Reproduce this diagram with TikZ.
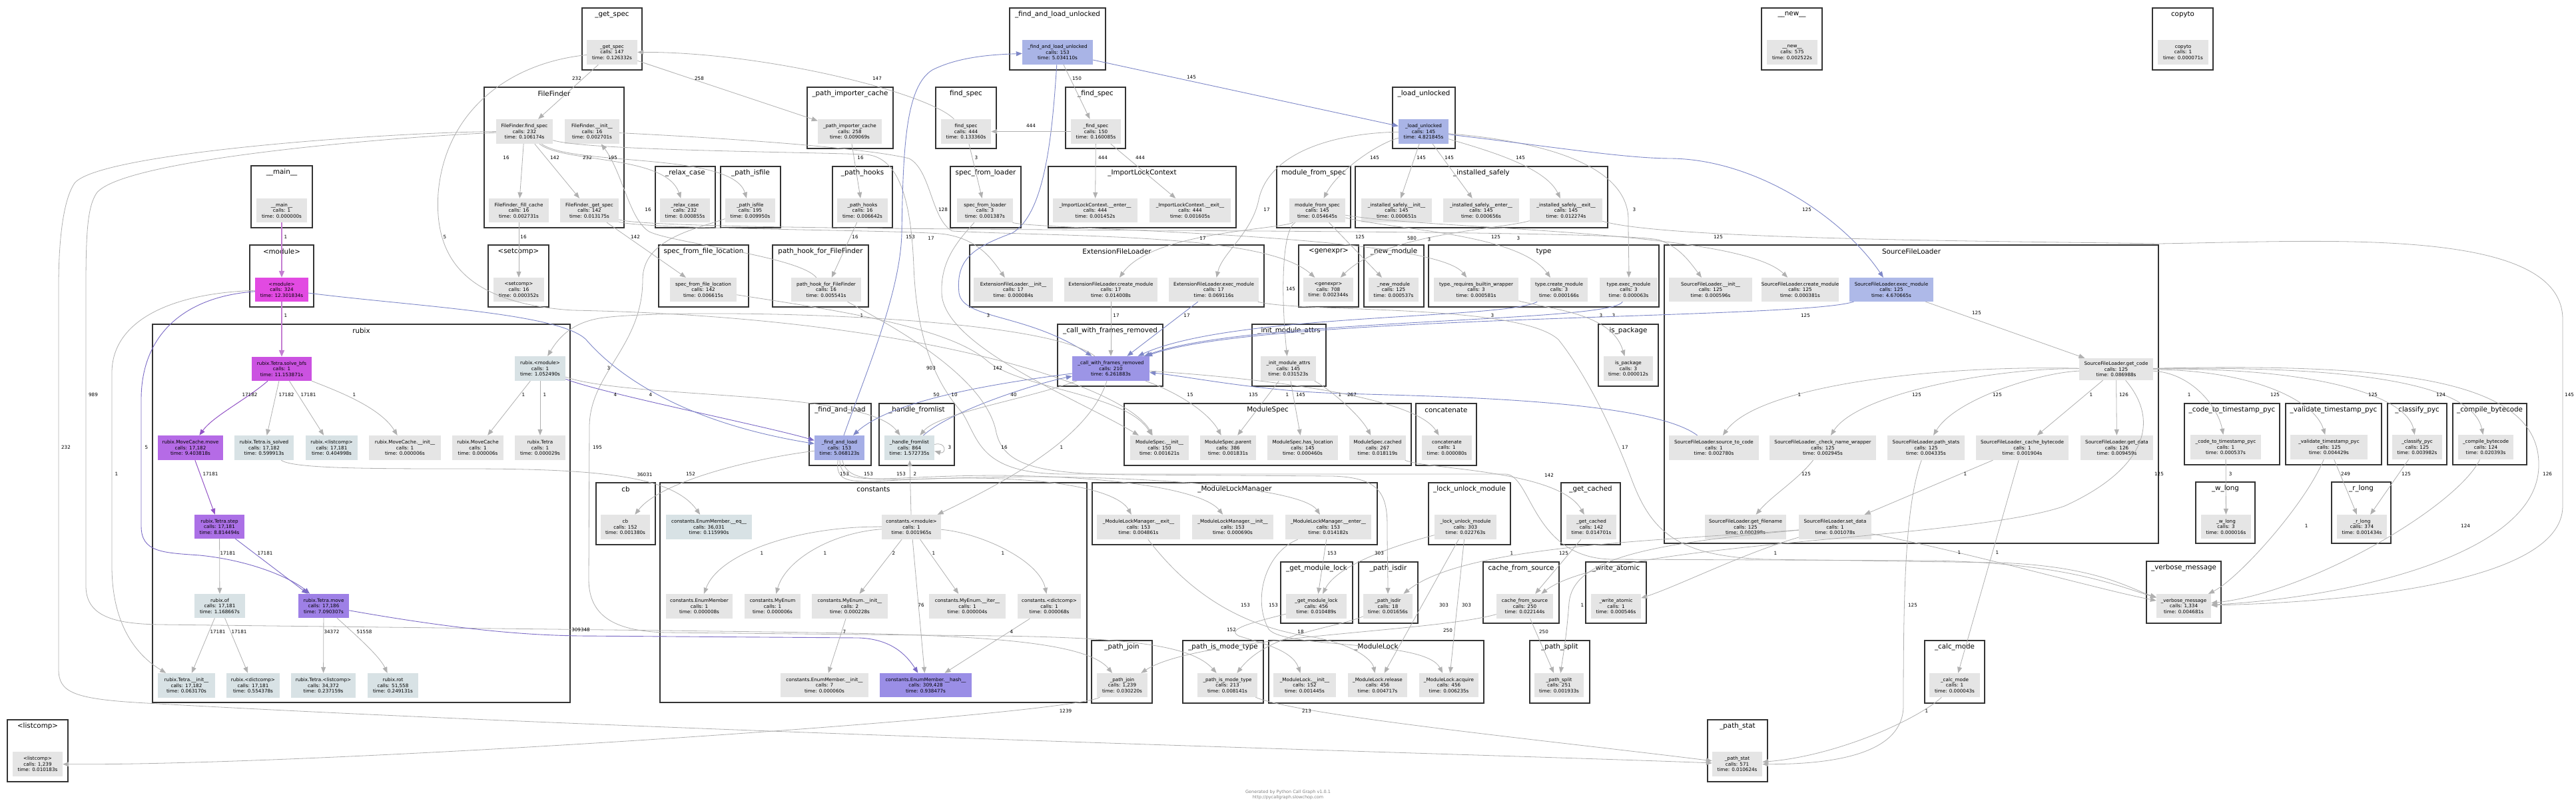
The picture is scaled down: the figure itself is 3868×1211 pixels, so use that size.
\documentclass[tikz,border=0pt]{standalone}
\usepackage{fontspec}
\setmainfont{DejaVu Sans}
\usetikzlibrary{arrows.meta}
\definecolor{eg}{HTML}{B0B0B0}
\definecolor{eb}{HTML}{7F88C8}
\definecolor{ev}{HTML}{7B6AC6}
\definecolor{ep}{HTML}{9353C6}
\definecolor{em}{HTML}{C47ED2}
\definecolor{ng}{HTML}{E5E5E5}
\definecolor{nbg}{HTML}{D8E2E5}
\definecolor{nb1}{HTML}{A9B4E6}
\definecolor{nb2}{HTML}{A5AEE6}
\definecolor{nb3}{HTML}{AEB9E8}
\definecolor{nv1}{HTML}{9C95E6}
\definecolor{nv2}{HTML}{9A8EE6}
\definecolor{nv3}{HTML}{9E80E6}
\definecolor{np1}{HTML}{AB70E6}
\definecolor{np2}{HTML}{B56BE6}
\definecolor{np3}{HTML}{CB52E1}
\definecolor{nm}{HTML}{E24AE2}
\newcommand\fnd[7]{\node[fnb,fill=#6,minimum width={(#4-#2)*1pt},minimum height={(#5-#3)*1pt}] (#1) at ({(#2+#4)/2},{(#3+#5)/2}) {#7};}
\newcommand\clu[6]{\draw[clb] (#2,#3) rectangle (#4,#5); \node[clt] (#1) at ({(#2+#4)/2},{#3+10}) {#6};}
\begin{document}
\begin{tikzpicture}[x=1pt,y=-1pt,
 clb/.style={draw=black!80,line width=1.7pt},
 clt/.style={font=\fontsize{10.3}{12}\selectfont,inner sep=0pt},
 fnb/.style={draw=none,inner sep=0pt,align=center,font=\fontsize{7.2}{8.6}\selectfont},
 el/.style={font=\fontsize{7.2}{8}\selectfont,inner sep=0pt},
 ge/.style={draw=eg,line width=0.8pt,-{Triangle[length=9pt,width=7pt]}},
 be/.style={draw=eb,line width=0.9pt,-{Triangle[length=9pt,width=7pt]}},
 bv/.style={draw=ev,line width=0.9pt,-{Triangle[length=9pt,width=7pt]}},
 pe/.style={draw=ep,line width=1pt,-{Triangle[length=9pt,width=7pt]}},
 me/.style={draw=em,line width=1.8pt,-{Triangle[length=10pt,width=8pt]}}]
\useasboundingbox (0,0) rectangle (3868,1211);
\fill[white] (0,0) rectangle (3868,1211);
% clusters
\clu{k1}{874}{12}{964}{105}{\_get\_spec}
\clu{k2}{1516}{12}{1660}{105}{\_find\_and\_load\_unlocked}
\clu{k3}{2645}{12}{2736}{105}{\_\_new\_\_}
\clu{k4}{3232}{12}{3323}{105}{copyto}
\clu{k5}{727}{131}{937}{342}{FileFinder}
\clu{k6}{1212}{131}{1341}{223}{\_path\_importer\_cache}
\clu{k7}{1405}{131}{1496}{223}{find\_spec}
\clu{k8}{1600}{131}{1690}{223}{\_find\_spec}
\clu{k9}{2091}{131}{2185}{223}{\_load\_unlocked}
\clu{k10}{377}{249}{469}{342}{\_\_main\_\_}
\clu{k11}{984}{250}{1074}{342}{\_relax\_case}
\clu{k12}{1082}{250}{1172}{342}{\_path\_isfile}
\clu{k13}{1250}{250}{1340}{342}{\_path\_hooks}
\clu{k14}{1427}{250}{1533}{342}{spec\_from\_loader}
\clu{k15}{1574}{250}{1856}{342}{\_ImportLockContext}
\clu{k16}{1917}{250}{2028}{342}{module\_from\_spec}
\clu{k17}{2035}{250}{2414}{342}{\_installed\_safely}
\clu{k18}{375}{368}{471}{461}{<module>}
\clu{k19}{733}{368}{824}{461}{<setcomp>}
\clu{k20}{989}{368}{1124}{461}{spec\_from\_file\_location}
\clu{k21}{1160}{368}{1304}{461}{path\_hook\_for\_FileFinder}
\clu{k22}{1456}{368}{1898}{461}{ExtensionFileLoader}
\clu{k23}{1950}{368}{2040}{461}{<genexpr>}
\clu{k24}{2048}{368}{2138}{461}{\_new\_module}
\clu{k25}{2145}{368}{2491}{461}{type}
\clu{k26}{2499}{368}{3241}{816}{SourceFileLoader}
\clu{k27}{229}{487}{856}{1055}{rubix}
\clu{k28}{1588}{487}{1746}{580}{\_call\_with\_frames\_removed}
\clu{k29}{1880}{487}{1991}{580}{\_init\_module\_attrs}
\clu{k30}{2400}{487}{2490}{580}{is\_package}
\clu{k31}{1215}{606}{1308}{699}{\_find\_and\_load}
\clu{k32}{1320}{606}{1433}{699}{\_handle\_fromlist}
\clu{k33}{1688}{606}{2119}{699}{ModuleSpec}
\clu{k34}{2126}{606}{2217}{699}{concatenate}
\clu{k35}{3280}{606}{3423}{698}{\_code\_to\_timestamp\_pyc}
\clu{k36}{3432}{606}{3576}{698}{\_validate\_timestamp\_pyc}
\clu{k37}{3585}{606}{3674}{698}{\_classify\_pyc}
\clu{k38}{3683}{606}{3794}{698}{\_compile\_bytecode}
\clu{k39}{895}{725}{984}{818}{cb}
\clu{k40}{991}{725}{1632}{1055}{constants}
\clu{k41}{1640}{725}{2068}{818}{\_ModuleLockManager}
\clu{k42}{2145}{725}{2268}{818}{\_lock\_unlock\_module}
\clu{k43}{2344}{725}{2433}{818}{\_get\_cached}
\clu{k44}{3297}{724}{3386}{816}{\_w\_long}
\clu{k45}{3501}{724}{3590}{816}{\_r\_long}
\clu{k46}{1923}{844}{2031}{936}{\_get\_module\_lock}
\clu{k47}{2040}{844}{2129}{936}{\_path\_isdir}
\clu{k48}{2227}{844}{2341}{936}{cache\_from\_source}
\clu{k49}{2381}{844}{2472}{936}{\_write\_atomic}
\clu{k50}{3223}{843}{3335}{936}{\_verbose\_message}
\clu{k51}{1639}{962}{1730}{1056}{\_path\_join}
\clu{k52}{1776}{962}{1897}{1056}{\_path\_is\_mode\_type}
\clu{k53}{1905}{962}{2228}{1056}{\_ModuleLock}
\clu{k54}{2297}{962}{2387}{1056}{\_path\_split}
\clu{k55}{2890}{962}{2980}{1056}{\_calc\_mode}
\clu{k56}{11}{1081}{102}{1174}{<listcomp>}
\clu{k57}{2564}{1081}{2654}{1174}{\_path\_stat}
% nodes
\fnd{getspec}{881}{60}{957}{97}{ng}{\_get\_spec\\calls: 147\\time: 0.126332s}
\fnd{falu}{1535}{60}{1641}{97}{nb1}{\_find\_and\_load\_unlocked\\calls: 153\\time: 5.034110s}
\fnd{new}{2653}{60}{2729}{97}{ng}{\_\_new\_\_\\calls: 575\\time: 0.002522s}
\fnd{copyto}{3240}{60}{3316}{97}{ng}{copyto\\calls: 1\\time: 0.000071s}
\fnd{ffind}{745}{179}{830}{216}{ng}{FileFinder.find\_spec\\calls: 232\\time: 0.106174s}
\fnd{finit}{848}{179}{930}{216}{ng}{FileFinder.\_\_init\_\_\\calls: 16\\time: 0.002701s}
\fnd{ffill}{734}{298}{824}{334}{ng}{FileFinder.\_fill\_cache\\calls: 16\\time: 0.002731s}
\fnd{fget}{841}{298}{929}{334}{ng}{FileFinder.\_get\_spec\\calls: 142\\time: 0.013175s}
\fnd{pic}{1228}{179}{1324}{216}{ng}{\_path\_importer\_cache\\calls: 258\\time: 0.009069s}
\fnd{findspec}{1413}{179}{1488}{216}{ng}{find\_spec\\calls: 444\\time: 0.133360s}
\fnd{ufindspec}{1608}{179}{1683}{216}{ng}{\_find\_spec\\calls: 150\\time: 0.160085s}
\fnd{lu}{2100}{179}{2175}{216}{nb1}{\_load\_unlocked\\calls: 145\\time: 4.821845s}
\fnd{main}{385}{298}{461}{334}{ng}{\_\_main\_\_\\calls: 1\\time: 0.000000s}
\fnd{relax}{991}{298}{1066}{334}{ng}{\_relax\_case\\calls: 232\\time: 0.000855s}
\fnd{isfile}{1089}{298}{1164}{334}{ng}{\_path\_isfile\\calls: 195\\time: 0.009950s}
\fnd{hooks}{1257}{298}{1333}{334}{ng}{\_path\_hooks\\calls: 16\\time: 0.006642s}
\fnd{sfl}{1437}{298}{1521}{334}{ng}{spec\_from\_loader\\calls: 3\\time: 0.001387s}
\fnd{ilcenter}{1581}{298}{1708}{334}{ng}{\_ImportLockContext.\_\_enter\_\_\\calls: 444\\time: 0.001452s}
\fnd{ilcexit}{1726}{298}{1848}{334}{ng}{\_ImportLockContext.\_\_exit\_\_\\calls: 444\\time: 0.001605s}
\fnd{mfs}{1936}{298}{2020}{334}{ng}{module\_from\_spec\\calls: 145\\time: 0.054645s}
\fnd{isinit}{2044}{298}{2150}{334}{ng}{\_installed\_safely.\_\_init\_\_\\calls: 145\\time: 0.000651s}
\fnd{isenter}{2167}{298}{2281}{334}{ng}{\_installed\_safely.\_\_enter\_\_\\calls: 145\\time: 0.000656s}
\fnd{isexit}{2297}{298}{2406}{334}{ng}{\_installed\_safely.\_\_exit\_\_\\calls: 145\\time: 0.012274s}
\fnd{module}{383}{417}{463}{453}{nm}{<module>\\calls: 324\\time: 12.301834s}
\fnd{setcomp}{741}{417}{817}{453}{ng}{<setcomp>\\calls: 16\\time: 0.000352s}
\fnd{sffl}{1006}{417}{1106}{453}{ng}{spec\_from\_file\_location\\calls: 142\\time: 0.006615s}
\fnd{phff}{1188}{417}{1293}{453}{ng}{path\_hook\_for\_FileFinder\\calls: 16\\time: 0.005541s}
\fnd{efinit}{1462}{417}{1581}{453}{ng}{ExtensionFileLoader.\_\_init\_\_\\calls: 17\\time: 0.000084s}
\fnd{efcreate}{1598}{417}{1738}{453}{ng}{ExtensionFileLoader.create\_module\\calls: 17\\time: 0.014008s}
\fnd{efexec}{1755}{417}{1890}{453}{ng}{ExtensionFileLoader.exec\_module\\calls: 17\\time: 0.069116s}
\fnd{genexpr}{1957}{417}{2032}{453}{ng}{<genexpr>\\calls: 708\\time: 0.002344s}
\fnd{newmod}{2055}{417}{2130}{453}{ng}{\_new\_module\\calls: 125\\time: 0.000537s}
\fnd{treq}{2153}{417}{2280}{453}{ng}{type.\_requires\_builtin\_wrapper\\calls: 3\\time: 0.000581s}
\fnd{tcreate}{2298}{417}{2384}{453}{ng}{type.create\_module\\calls: 3\\time: 0.000166s}
\fnd{texec}{2402}{417}{2489}{453}{ng}{type.exec\_module\\calls: 3\\time: 0.000063s}
\fnd{sfinit}{2506}{417}{2631}{453}{ng}{SourceFileLoader.\_\_init\_\_\\calls: 125\\time: 0.000596s}
\fnd{sfcreate}{2646}{417}{2760}{453}{ng}{SourceFileLoader.create\_module\\calls: 125\\time: 0.000381s}
\fnd{sfexec}{2777}{417}{2903}{453}{nb3}{SourceFileLoader.exec\_module\\calls: 125\\time: 4.670665s}
\fnd{getcode}{3122}{538}{3233}{571}{ng}{SourceFileLoader.get\_code\\calls: 125\\time: 0.086988s}
\fnd{s2c}{2506}{654}{2641}{691}{ng}{SourceFileLoader.source\_to\_code\\calls: 1\\time: 0.002780s}
\fnd{chk}{2657}{654}{2817}{691}{ng}{SourceFileLoader.\_check\_name\_wrapper\\calls: 125\\time: 0.002945s}
\fnd{pstats}{2834}{654}{2950}{691}{ng}{SourceFileLoader.path\_stats\\calls: 125\\time: 0.004335s}
\fnd{cacheb}{2967}{654}{3106}{691}{ng}{SourceFileLoader.\_cache\_bytecode\\calls: 1\\time: 0.001904s}
\fnd{getdata}{3124}{654}{3233}{691}{ng}{SourceFileLoader.get\_data\\calls: 126\\time: 0.009459s}
\fnd{getfn}{2560}{773}{2682}{810}{ng}{SourceFileLoader.get\_filename\\calls: 125\\time: 0.000398s}
\fnd{setdata}{2701}{773}{2810}{810}{ng}{SourceFileLoader.set\_data\\calls: 1\\time: 0.001078s}
\fnd{c2t}{3289}{653}{3395}{690}{ng}{\_code\_to\_timestamp\_pyc\\calls: 1\\time: 0.000537s}
\fnd{vts}{3439}{653}{3555}{690}{ng}{\_validate\_timestamp\_pyc\\calls: 125\\time: 0.004429s}
\fnd{clpyc}{3592}{653}{3667}{690}{ng}{\_classify\_pyc\\calls: 125\\time: 0.003982s}
\fnd{compb}{3691}{653}{3774}{690}{ng}{\_compile\_bytecode\\calls: 124\\time: 0.020393s}
\fnd{wlong}{3305}{773}{3380}{809}{ng}{\_w\_long\\calls: 3\\time: 0.000016s}
\fnd{rlong}{3509}{773}{3584}{809}{ng}{\_r\_long\\calls: 374\\time: 0.001434s}
\fnd{vmsg}{3238}{892}{3320}{928}{ng}{\_verbose\_message\\calls: 1,334\\time: 0.004681s}
\fnd{calc}{2897}{1011}{2973}{1047}{ng}{\_calc\_mode\\calls: 1\\time: 0.000043s}
\fnd{pstat}{2571}{1129}{2646}{1166}{ng}{\_path\_stat\\calls: 571\\time: 0.010624s}
\fnd{solve}{378}{536}{468}{572}{np3}{rubix.Tetra.solve\_bfs\\calls: 1\\time: 11.153871s}
\fnd{mcmove}{237}{654}{335}{691}{np2}{rubix.MoveCache.move\\calls: 17,182\\time: 9.403818s}
\fnd{issolved}{352}{654}{441}{691}{nbg}{rubix.Tetra.is\_solved\\calls: 17,182\\time: 0.599913s}
\fnd{rlist}{459}{654}{537}{691}{nbg}{rubix.<listcomp>\\calls: 17,181\\time: 0.404998s}
\fnd{mcinit}{554}{654}{662}{691}{ng}{rubix.MoveCache.\_\_init\_\_\\calls: 1\\time: 0.000006s}
\fnd{mcache}{679}{654}{756}{691}{ng}{rubix.MoveCache\\calls: 1\\time: 0.000006s}
\fnd{rtetra}{773}{654}{849}{691}{ng}{rubix.Tetra\\calls: 1\\time: 0.000029s}
\fnd{rmod}{773}{535}{849}{572}{nbg}{rubix.<module>\\calls: 1\\time: 1.052490s}
\fnd{step}{292}{773}{367}{809}{np1}{rubix.Tetra.step\\calls: 17,181\\time: 8.814494s}
\fnd{of}{292}{892}{368}{928}{nbg}{rubix.of\\calls: 17,181\\time: 1.168667s}
\fnd{tmove}{448}{892}{524}{928}{nv3}{rubix.Tetra.move\\calls: 17,186\\time: 7.090307s}
\fnd{tinit}{237}{1011}{323}{1048}{nbg}{rubix.Tetra.\_\_init\_\_\\calls: 17,182\\time: 0.063170s}
\fnd{rdict}{340}{1011}{420}{1048}{nbg}{rubix.<dictcomp>\\calls: 17,181\\time: 0.554378s}
\fnd{tlist}{437}{1011}{534}{1048}{nbg}{rubix.Tetra.<listcomp>\\calls: 34,372\\time: 0.237159s}
\fnd{rot}{552}{1011}{628}{1048}{nbg}{rubix.rot\\calls: 51,558\\time: 0.249131s}
\fnd{listcomp}{19}{1129}{94}{1166}{ng}{<listcomp>\\calls: 1,239\\time: 0.010183s}
\fnd{cwfr}{1610}{535}{1726}{572}{nv1}{\_call\_with\_frames\_removed\\calls: 210\\time: 6.261883s}
\fnd{ima}{1893}{535}{1976}{572}{ng}{\_init\_module\_attrs\\calls: 145\\time: 0.031523s}
\fnd{ispkg}{2408}{535}{2482}{572}{ng}{is\_package\\calls: 3\\time: 0.000012s}
\fnd{fal}{1223}{654}{1298}{691}{nb2}{\_find\_and\_load\\calls: 153\\time: 5.068123s}
\fnd{hfl}{1328}{654}{1403}{691}{nbg}{\_handle\_fromlist\\calls: 864\\time: 1.572735s}
\fnd{cb}{902}{773}{976}{810}{ng}{cb\\calls: 152\\time: 0.001380s}
\fnd{eeq}{1000}{773}{1129}{810}{nbg}{constants.EnumMember.\_\_eq\_\_\\calls: 36,031\\time: 0.115990s}
\fnd{cmod}{1324}{773}{1413}{810}{ng}{constants.<module>\\calls: 1\\time: 0.001965s}
\fnd{cem}{1000}{892}{1100}{929}{ng}{constants.EnumMember\\calls: 1\\time: 0.000008s}
\fnd{cme}{1118}{892}{1202}{929}{ng}{constants.MyEnum\\calls: 1\\time: 0.000006s}
\fnd{cmeinit}{1219}{892}{1333}{929}{ng}{constants.MyEnum.\_\_init\_\_\\calls: 2\\time: 0.000228s}
\fnd{cmeiter}{1395}{892}{1510}{929}{ng}{constants.MyEnum.\_\_iter\_\_\\calls: 1\\time: 0.000004s}
\fnd{cdict}{1528}{892}{1623}{929}{ng}{constants.<dictcomp>\\calls: 1\\time: 0.000068s}
\fnd{ceminit}{1172}{1011}{1304}{1047}{ng}{constants.EnumMember.\_\_init\_\_\\calls: 7\\time: 0.000060s}
\fnd{chash}{1321}{1011}{1459}{1047}{nv2}{constants.EnumMember.\_\_hash\_\_\\calls: 309,428\\time: 0.938477s}
\fnd{msinit}{1697}{654}{1785}{691}{ng}{ModuleSpec.\_\_init\_\_\\calls: 150\\time: 0.001621s}
\fnd{msparent}{1802}{654}{1886}{691}{ng}{ModuleSpec.parent\\calls: 386\\time: 0.001831s}
\fnd{mshas}{1903}{654}{2009}{691}{ng}{ModuleSpec.has\_location\\calls: 145\\time: 0.000460s}
\fnd{mscached}{2026}{654}{2111}{691}{ng}{ModuleSpec.cached\\calls: 267\\time: 0.018119s}
\fnd{concat}{2135}{654}{2210}{691}{ng}{concatenate\\calls: 1\\time: 0.000080s}
\fnd{mlmexit}{1647}{773}{1772}{810}{ng}{\_ModuleLockManager.\_\_exit\_\_\\calls: 153\\time: 0.004861s}
\fnd{mlminit}{1790}{773}{1912}{810}{ng}{\_ModuleLockManager.\_\_init\_\_\\calls: 153\\time: 0.000690s}
\fnd{mlmenter}{1930}{773}{2059}{810}{ng}{\_ModuleLockManager.\_\_enter\_\_\\calls: 153\\time: 0.014182s}
\fnd{luk}{2154}{773}{2247}{810}{ng}{\_lock\_unlock\_module\\calls: 303\\time: 0.022763s}
\fnd{getcached}{2352}{773}{2427}{810}{ng}{\_get\_cached\\calls: 142\\time: 0.014701s}
\fnd{gml}{1931}{892}{2022}{929}{ng}{\_get\_module\_lock\\calls: 456\\time: 0.010489s}
\fnd{isdir}{2047}{892}{2121}{929}{ng}{\_path\_isdir\\calls: 18\\time: 0.001656s}
\fnd{cfs}{2247}{892}{2332}{929}{ng}{cache\_from\_source\\calls: 250\\time: 0.022144s}
\fnd{watomic}{2389}{892}{2464}{929}{ng}{\_write\_atomic\\calls: 1\\time: 0.000546s}
\fnd{pjoin}{1647}{1011}{1723}{1047}{ng}{\_path\_join\\calls: 1,239\\time: 0.030220s}
\fnd{pimt}{1798}{1011}{1888}{1047}{ng}{\_path\_is\_mode\_type\\calls: 213\\time: 0.008141s}
\fnd{mlinit}{1912}{1011}{2006}{1047}{ng}{\_ModuleLock.\_\_init\_\_\\calls: 152\\time: 0.001445s}
\fnd{mlrel}{2024}{1011}{2113}{1047}{ng}{\_ModuleLock.release\\calls: 456\\time: 0.004717s}
\fnd{mlacq}{2131}{1011}{2220}{1047}{ng}{\_ModuleLock.acquire\\calls: 456\\time: 0.006235s}
\fnd{psplit}{2304}{1011}{2378}{1047}{ng}{\_path\_split\\calls: 251\\time: 0.001933s}
% footer
\node[font=\fontsize{6.5}{8}\selectfont,text=black!50,align=center,inner sep=0pt] (footer) at (1934,1194) {Generated by Python Call Graph v1.0.1\\http://pycallgraph.slowchop.com};
% edges: top area
\draw[ge] (getspec) -- (ffind) node[el] at (866,118) {232};
\draw[ge] (getspec) -- (pic) node[el] at (1050,118) {258};
\draw[ge] (findspec) .. controls (1395,140) and (1150,78) .. (getspec) node[el] at (1317,118) {147};
\draw[ge] (getspec) .. controls (760,95) and (668,170) .. (658,290) .. controls (652,380) and (690,455) .. (860,466) .. controls (1380,476) and (1690,580) .. (msinit) node[el] at (668,356) {5};
\draw[ge] (ffind) -- (ffill) node[el] at (760,237) {16};
\draw[ge] (ffind) -- (fget) node[el] at (833,237) {142};
\draw[ge] (ffind) .. controls (845,245) and (1000,232) .. (relax) node[el] at (882,237) {232};
\draw[ge] (ffind) .. controls (860,250) and (1100,228) .. (isfile) node[el] at (920,237) {195};
\draw[ge] (phff) .. controls (1200,385) and (1010,365) .. (975,348) .. controls (945,330) and (935,260) .. (finit) node[el] at (973,315) {16};
\draw[ge] (finit) .. controls (1100,208) and (1300,222) .. (1365,238) .. controls (1398,255) and (1398,330) .. (1430,347) .. controls (1600,356) and (1900,350) .. (genexpr) node[el] at (1416,315) {128};
\draw[ge] (pic) -- (hooks) node[el] at (1292,237) {16};
\draw[ge] (hooks) -- (phff) node[el] at (1284,356) {16};
\draw[ge] (ffill) -- (setcomp) node[el] at (786,356) {16};
\draw[ge] (fget) -- (sffl) node[el] at (954,356) {142};
\draw[ge] (fget) .. controls (960,345) and (1380,345) .. (1420,352) .. controls (1470,360) and (1490,390) .. (efinit) node[el] at (1398,358) {17};
\draw[ge] (fget) .. controls (1000,352) and (2380,340) .. (2490,360) .. controls (2520,370) and (2535,390) .. (sfinit) node[el] at (2246,356) {125};
\draw[ge] (isfile) .. controls (1040,345) and (965,360) .. (965,420) .. controls (965,520) and (886,560) .. (885,640) -- (884,870) .. controls (884,930) and (930,948) .. (1000,950) -- (1500,955) .. controls (1700,958) and (1790,970) .. (pimt) node[el] at (897,672) {195};
\draw[ge] (ffind) .. controls (880,226) and (1200,228) .. (1300,232) .. controls (1350,236) and (1368,300) .. (1372,400) .. controls (1376,500) and (1400,570) .. (1445,620) .. controls (1470,660) and (1470,712) .. (1600,712) -- (2260,712) .. controls (2300,712) and (2300,838) .. (2420,840) -- (2900,842) .. controls (3100,845) and (3180,880) .. (vmsg) node[el] at (1398,553) {903};
% path_stat, join
\draw[ge] (pimt) .. controls (1950,1075) and (2350,1115) .. (pstat) node[el] at (1962,1068) {213};
\draw[ge] (isdir) .. controls (2000,945) and (1905,950) .. (pimt) node[el] at (1953,949) {18};
\draw[ge] (calc) .. controls (2880,1080) and (2760,1135) .. (pstat) node[el] at (2893,1068) {1};
\draw[ge] (pstats) .. controls (2860,760) and (2858,900) .. (2858,1060) .. controls (2858,1130) and (2760,1148) .. (pstat) node[el] at (2872,909) {125};
\draw[ge] (ffind) .. controls (600,198) and (150,228) .. (112,275) .. controls (95,300) and (88,360) .. (88,430) -- (88,1005) .. controls (88,1040) and (110,1050) .. (220,1056) .. controls (1000,1100) and (2300,1135) .. (pstat) node[el] at (99,672) {232};
\draw[ge] (ffind) .. controls (600,205) and (185,238) .. (145,290) .. controls (132,310) and (129,345) .. (129,430) -- (129,880) .. controls (129,925) and (170,937) .. (240,938) -- (1000,947) .. controls (1350,952) and (1620,950) .. (pjoin) node[el] at (140,593) {989};
\draw[ge] (pjoin) .. controls (1600,1075) and (500,1150) .. (listcomp) node[el] at (1600,1068) {1239};
% main / rubix
\draw[me] (main) -- (module) node[el] at (429,356) {1};
\draw[me] (module) -- (solve) node[el] at (429,474) {1};
\draw[ge] (module) .. controls (260,440) and (168,480) .. (168,560) -- (168,850) .. controls (168,950) and (215,990) .. (tinit) node[el] at (175,712) {1};
\draw[bv] (module) .. controls (280,445) and (212,500) .. (212,600) -- (212,790) .. controls (212,830) and (245,830) .. (300,834) .. controls (380,842) and (440,870) .. (tmove) node[el] at (220,672) {5};
\draw[pe] (solve) .. controls (370,600) and (320,625) .. (mcmove) node[el] at (375,593) {17182};
\draw[ge] (solve) -- (issolved) node[el] at (430,593) {17182};
\draw[ge] (solve) -- (rlist) node[el] at (463,593) {17181};
\draw[ge] (solve) .. controls (500,585) and (570,610) .. (mcinit) node[el] at (532,593) {1};
\draw[pe] (mcmove) -- (step) node[el] at (316,712) {17181};
\draw[ge] (step) -- (of) node[el] at (342,831) {17181};
\draw[bv] (step) -- (tmove) node[el] at (398,831) {17181};
\draw[ge] (of) -- (tinit) node[el] at (327,949) {17181};
\draw[ge] (of) -- (rdict) node[el] at (359,949) {17181};
\draw[ge] (tmove) -- (tlist) node[el] at (498,949) {34372};
\draw[ge] (tmove) .. controls (530,950) and (570,985) .. (rot) node[el] at (547,949) {51558};
\draw[bv] (tmove) .. controls (700,948) and (800,954) .. (870,955) -- (1290,958) .. controls (1340,960) and (1362,985) .. (chash) node[el] at (872,946) {309348};
\draw[ge] (issolved) .. controls (440,704) and (560,704) .. (700,704) .. controls (900,704) and (1010,715) .. (eeq) node[el] at (968,713) {36031};
\draw[ge] (rmod) -- (mcache) node[el] at (786,593) {1};
\draw[ge] (rmod) -- (rtetra) node[el] at (818,593) {1};
\draw[bv] (rmod) .. controls (900,590) and (1150,640) .. (fal) node[el] at (924,593) {4};
\draw[ge] (rmod) .. controls (950,600) and (1300,585) .. (hfl) node[el] at (977,593) {4};
\draw[be] (module) .. controls (620,460) and (840,470) .. (880,510) .. controls (910,545) and (1000,630) .. (fal) node[el] at (914,553) {3};
% find_and_load
\draw[be] (fal) .. controls (1300,560) and (1352,440) .. (1354,350) .. controls (1356,220) and (1360,130) .. (1400,105) .. controls (1440,85) and (1490,82) .. (falu) node[el] at (1367,356) {153};
\draw[ge] (falu) -- (ufindspec) node[el] at (1617,118) {150};
\draw[be] (falu) -- (lu) node[el] at (1789,116) {145};
\draw[be] (falu) .. controls (1580,200) and (1570,320) .. (1520,350) .. controls (1460,372) and (1435,390) .. (1440,440) .. controls (1446,480) and (1540,470) .. (cwfr) node[el] at (1484,474) {3};
\draw[ge] (ufindspec) -- (findspec) node[el] at (1548,189) {444};
\draw[ge] (ufindspec) -- (ilcenter) node[el] at (1656,237) {444};
\draw[ge] (ufindspec) -- (ilcexit) node[el] at (1712,237) {444};
\draw[ge] (findspec) -- (sfl) node[el] at (1466,237) {3};
\draw[ge] (lu) -- (isinit) node[el] at (2134,237) {145};
\draw[ge] (lu) -- (isenter) node[el] at (2176,237) {145};
\draw[ge] (lu) .. controls (2230,225) and (2320,250) .. (isexit) node[el] at (2283,237) {145};
\draw[ge] (lu) .. controls (2350,215) and (2445,260) .. (2445,330) .. controls (2445,370) and (2446,395) .. (texec) node[el] at (2454,315) {3};
\draw[be] (lu) .. controls (2330,220) and (2440,238) .. (2510,238) .. controls (2640,240) and (2770,330) .. (sfexec) node[el] at (2713,315) {125};
\draw[ge] (lu) .. controls (2070,215) and (2010,255) .. (mfs) node[el] at (2064,237) {145};
\draw[ge] (lu) .. controls (2000,200) and (1905,230) .. (1890,300) .. controls (1880,350) and (1835,380) .. (efexec) node[el] at (1902,315) {17};
\draw[ge] (mfs) -- (newmod) node[el] at (2042,356) {125};
\draw[ge] (mfs) .. controls (1925,345) and (1923,440) .. (ima) node[el] at (1938,434) {145};
\draw[ge] (mfs) .. controls (1920,345) and (1730,348) .. (efcreate) node[el] at (1806,358) {17};
\draw[ge] (mfs) .. controls (2090,345) and (2280,350) .. (tcreate) node[el] at (2280,358) {3};
\draw[ge] (mfs) .. controls (2150,345) and (2610,345) .. (sfcreate) node[el] at (2580,356) {125};
\draw[ge] (isexit) .. controls (2250,345) and (2080,350) .. (genexpr) node[el] at (2120,358) {580};
\draw[ge] (sfl) .. controls (1545,345) and (2150,350) .. (treq) node[el] at (2146,360) {3};
\draw[ge] (sfl) .. controls (1440,360) and (1412,390) .. (1414,440) .. controls (1416,520) and (1620,600) .. (msinit);
\draw[ge] (isexit) .. controls (2500,360) and (3000,362) .. (3241,366) .. controls (3500,362) and (3848,340) .. (3848,480) -- (3848,760) .. controls (3848,880) and (3500,905) .. (vmsg) node[el] at (3858,593) {145};
% call_with_frames_removed
\draw[ge] (efcreate) -- (cwfr) node[el] at (1676,474) {17};
\draw[be] (efexec) -- (cwfr) node[el] at (1782,474) {17};
\draw[be] (tcreate) .. controls (2260,480) and (1850,470) .. (cwfr) node[el] at (2241,474) {3};
\draw[be] (texec) .. controls (2420,485) and (1870,478) .. (cwfr) node[el] at (2423,474) {3};
\draw[be] (sfexec) .. controls (2700,480) and (1900,472) .. (cwfr) node[el] at (2711,474) {125};
\draw[ge] (treq) .. controls (2330,465) and (2420,470) .. (ispkg) node[el] at (2404,474) {3};
\draw[be] (s2c) .. controls (2470,595) and (2100,595) .. (1990,590) .. controls (1880,585) and (1780,565) .. (cwfr) node[el] at (2012,593) {1};
\draw[be] (cwfr) .. controls (1500,575) and (1340,600) .. (fal) node[el] at (1406,593) {50};
\draw[be] (hfl) .. controls (1430,615) and (1560,575) .. (cwfr) node[el] at (1522,593) {40};
\draw[ge] (cwfr) .. controls (1540,600) and (1410,620) .. (hfl) node[el] at (1433,593) {10};
\draw[ge] ([yshift=5pt]hfl.east) .. controls +(18pt,5pt) and +(18pt,-5pt) .. ([yshift=-5pt]hfl.east) node[el] at (1426,672) {3};
\draw[ge] (cmod) -- (hfl) node[el] at (1374,712) {2};
\draw[ge] (cwfr) .. controls (1640,640) and (1560,700) .. (cmod) node[el] at (1594,672) {1};
\draw[ge] (cwfr) .. controls (1560,470) and (1000,462) .. (900,478) .. controls (860,485) and (840,505) .. (rmod) node[el] at (1294,474) {1};
\draw[ge] (cwfr) .. controls (1850,565) and (2120,590) .. (concat) node[el] at (1933,593) {1};
\draw[ge] (cwfr) .. controls (1770,590) and (1815,620) .. (msparent) node[el] at (1787,593) {15};
\draw[ge] (ima) -- (msparent) node[el] at (1882,593) {135};
\draw[ge] (ima) -- (mshas) node[el] at (1953,593) {145};
\draw[ge] (ima) .. controls (1990,580) and (2040,620) .. (mscached) node[el] at (2030,593) {267};
\draw[ge] (sffl) .. controls (1250,465) and (1420,490) .. (1480,540) .. controls (1530,585) and (1690,590) .. (msinit) node[el] at (1498,553) {142};
\draw[ge] (mscached) .. controls (2140,705) and (2340,705) .. (getcached) node[el] at (2326,714) {142};
\draw[ge] (getcached) -- (cfs) node[el] at (2348,831) {125};
\draw[ge] (getcode) .. controls (3250,640) and (3210,710) .. (3100,760) .. controls (2950,812) and (2420,812) .. (cfs) node[el] at (3242,712) {125};
\draw[ge] (cfs) -- (psplit) node[el] at (2318,949) {250};
\draw[ge] (cfs) .. controls (2150,950) and (1800,955) .. (pjoin) node[el] at (2174,947) {250};
\draw[ge] (efexec) .. controls (1950,470) and (2280,455) .. (2340,510) .. controls (2380,560) and (2420,640) .. (2450,720) .. controls (2480,800) and (2520,835) .. (2650,840) -- (3000,845) .. controls (3150,850) and (3200,885) .. (vmsg) node[el] at (2440,672) {17};
% SourceFileLoader internals
\draw[ge] (sfexec) -- (getcode) node[el] at (2968,470) {125};
\draw[ge] (setdata) .. controls (2620,830) and (2520,880) .. (watomic) node[el] at (2666,831) {1};
\draw[ge] (setdata) .. controls (2450,818) and (2362,845) .. (2356,905) .. controls (2352,960) and (2346,990) .. (psplit) node[el] at (2376,909) {1};
\draw[ge] (setdata) .. controls (2500,812) and (2200,818) .. (isdir) node[el] at (2270,831) {1};
\draw[ge] (cacheb) -- (setdata) node[el] at (2951,712) {1};
\draw[ge] (cacheb) -- (calc) node[el] at (2999,830) {1};
\draw[ge] (chk) .. controls (2700,720) and (2660,745) .. (getfn) node[el] at (2712,712) {125};
\draw[ge] (getcode) .. controls (2900,548) and (2640,580) .. (s2c) node[el] at (2702,593) {1};
\draw[ge] (getcode) .. controls (3000,552) and (2790,590) .. (chk) node[el] at (2878,593) {125};
\draw[ge] (getcode) .. controls (3060,560) and (2935,600) .. (pstats) node[el] at (2999,593) {125};
\draw[ge] (getcode) -- (cacheb) node[el] at (3140,593) {1};
\draw[ge] (getcode) -- (getdata) node[el] at (3189,593) {126};
\draw[ge] (getcode) .. controls (3290,560) and (3330,610) .. (c2t) node[el] at (3287,593) {1};
\draw[ge] (getcode) .. controls (3380,556) and (3475,600) .. (vts) node[el] at (3416,593) {125};
\draw[ge] (getcode) .. controls (3500,552) and (3615,600) .. (clpyc) node[el] at (3563,593) {125};
\draw[ge] (getcode) .. controls (3600,548) and (3715,590) .. (compb) node[el] at (3665,593) {124};
\draw[ge] (getcode) .. controls (3600,545) and (3815,570) .. (3812,700) .. controls (3810,840) and (3500,900) .. (vmsg) node[el] at (3825,712) {126};
\draw[ge] (c2t) -- (wlong) node[el] at (3349,712) {3};
\draw[ge] (vts) -- (rlong) node[el] at (3522,712) {249};
\draw[ge] (clpyc) -- (rlong) node[el] at (3613,712) {125};
\draw[ge] (vts) .. controls (3460,760) and (3360,870) .. (vmsg) node[el] at (3463,790) {1};
\draw[ge] (compb) .. controls (3690,760) and (3470,890) .. (vmsg) node[el] at (3702,790) {124};
\draw[ge] (setdata) .. controls (2950,828) and (3150,885) .. (vmsg) node[el] at (2942,830) {1};
% module locks
\draw[ge] (luk) -- (mlrel) node[el] at (2168,909) {303};
\draw[ge] (luk) -- (mlacq) node[el] at (2202,909) {303};
\draw[ge] (luk) .. controls (2110,815) and (2010,845) .. (gml) node[el] at (2071,831) {303};
\draw[ge] (mlmenter) -- (gml) node[el] at (2000,831) {153};
\draw[ge] (mlmenter) .. controls (1900,830) and (1880,900) .. (1905,945) .. controls (1930,975) and (2140,960) .. (mlacq) node[el] at (1912,909) {153};
\draw[ge] (mlmexit) .. controls (1770,870) and (1840,935) .. (1960,955) .. controls (2030,965) and (2060,990) .. (mlrel) node[el] at (1870,909) {153};
\draw[ge] (gml) .. controls (1880,935) and (1840,945) .. (1860,955) .. controls (1890,965) and (1940,975) .. (mlinit) node[el] at (1849,946) {152};
\draw[ge] (fal) .. controls (1120,690) and (990,725) .. (cb) node[el] at (1037,712) {152};
\draw[ge] (fal) .. controls (1262,735) and (1320,714) .. (1500,714) .. controls (1700,716) and (1810,740) .. (mlminit) node[el] at (1304,712) {153};
\draw[ge] (fal) .. controls (1275,735) and (1340,716) .. (1560,716) .. controls (1800,718) and (1960,740) .. (mlmenter) node[el] at (1353,712) {153};
\draw[ge] (fal) .. controls (1252,740) and (1300,718) .. (1450,718) .. controls (1600,718) and (1680,740) .. (mlmexit) node[el] at (1268,712) {153};
\draw[ge] (phff) .. controls (1320,480) and (1480,560) .. (1496,650) .. controls (1508,700) and (1560,712) .. (1700,713) -- (2000,715) .. controls (2070,717) and (2083,740) .. (2083,790) .. controls (2083,840) and (2084,860) .. (isdir) node[el] at (1508,672) {16};
% constants
\draw[ge] (cmod) .. controls (1200,790) and (1080,830) .. (cem) node[el] at (1144,831) {1};
\draw[ge] (cmod) .. controls (1250,800) and (1180,840) .. (cme) node[el] at (1239,831) {1};
\draw[ge] (cmod) -- (cmeinit) node[el] at (1342,831) {2};
\draw[ge] (cmod) -- (chash) node[el] at (1383,909) {76};
\draw[ge] (cmod) -- (cmeiter) node[el] at (1402,831) {1};
\draw[ge] (cmod) .. controls (1470,800) and (1560,840) .. (cdict) node[el] at (1506,831) {1};
\draw[ge] (cmeinit) -- (ceminit) node[el] at (1268,949) {7};
\draw[ge] (cdict) -- (chash) node[el] at (1519,949) {4};
\end{tikzpicture}
\end{document}
